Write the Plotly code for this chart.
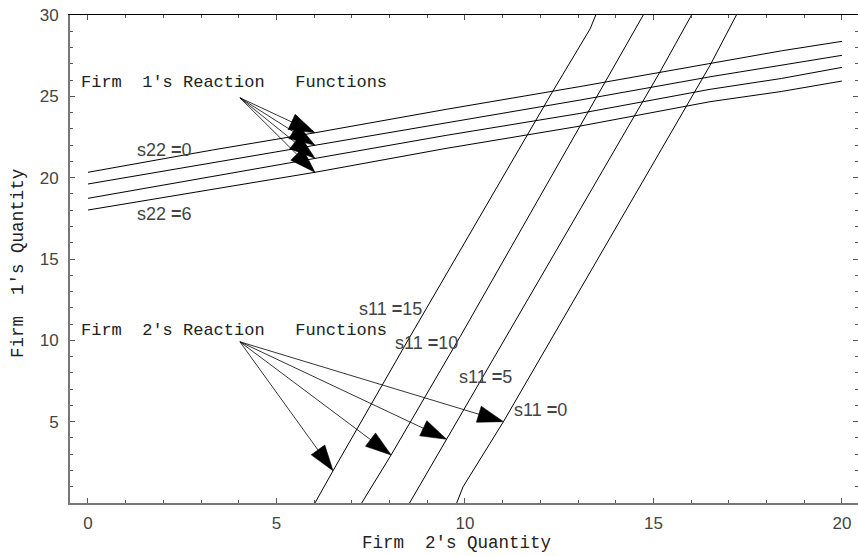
import plotly.graph_objects as go

# ---------------- data ----------------
# Firm 1's reaction functions: Firm 1 quantity (y) vs Firm 2 quantity (x)
f1_x = [0, 3.3, 6.02, 9.5, 13.05, 16.5, 18.4, 20]
f1_s22_0 = [20.33, 21.70, 22.76, 24.20, 25.60, 27.03, 27.80, 28.38]
f1_s22_2 = [19.61, 20.91, 21.99, 23.36, 24.77, 26.20, 26.93, 27.52]
f1_s22_4 = [18.73, 20.08, 21.19, 22.60, 23.95, 25.43, 26.10, 26.78]
f1_s22_6 = [18.01, 19.28, 20.33, 21.80, 23.17, 24.67, 25.30, 25.94]

# Firm 2's reaction functions: Firm 2 quantity (x) as function of Firm 1 quantity (y)
f2_s11_15_y = [0, 1.98, 10.22, 20.47, 25.2, 29.15, 30]
f2_s11_15_x = [6.02, 6.50, 8.54, 11.10, 12.30, 13.32, 13.47]
f2_s11_10_y = [0, 2.95, 10.22, 20.47, 25.97, 30]
f2_s11_10_x = [7.26, 8.04, 9.87, 12.39, 13.76, 14.73]
f2_s11_5_y = [0, 3.92, 10.12, 20.47, 26.49, 30]
f2_s11_5_x = [8.53, 9.51, 11.06, 13.65, 15.17, 16.01]
f2_s11_0_y = [0, 1.0, 5.0, 10.12, 17.4, 26.9, 30]
f2_s11_0_x = [9.78, 9.95, 11.02, 12.30, 14.11, 16.50, 17.20]

# arrows (origin at the label, tips on the curves)
arrow1_origin = (4.03, 24.91)
arrow1_tip_x = [6.02, 6.02, 6.02, 6.02]
arrow1_tip_y = [22.76, 21.99, 21.19, 20.33]
arrow2_origin = (4.03, 9.91)
arrow2_tip_x = [6.50, 8.04, 9.51, 11.02]
arrow2_tip_y = [1.98, 2.95, 3.92, 5.00]

# text labels
group_labels = ["Firm\u00a0\u00a01's Reaction\u00a0\u00a0\u00a0Functions",
                "Firm\u00a0\u00a02's Reaction\u00a0\u00a0\u00a0Functions"]
group_label_x = [-0.24, -0.24]
group_label_y = [25.82, 10.62]

curve_labels = ["s22 <b>=</b>0", "s22 <b>=</b>6", "s11 <b>=</b>15",
                "s11 <b>=</b>10", "s11 <b>=</b>5", "s11 <b>=</b>0"]
curve_label_x = [1.25, 1.25, 7.14, 8.09, 9.79, 11.25]
curve_label_y = [21.7, 17.76, 11.95, 9.83, 7.74, 5.72]

x_ticks = [0, 5, 10, 15, 20]
y_ticks = [5, 10, 15, 20, 25, 30]
x_title = "Firm\u00a0\u00a02's Quantity"
y_title = "Firm\u00a0\u00a01's Quantity"

# ---------------- figure ----------------
fig = go.Figure()
line_style = dict(color="black", width=1)

for ys in [f1_s22_0, f1_s22_2, f1_s22_4, f1_s22_6]:
    fig.add_trace(go.Scatter(x=f1_x, y=ys, mode="lines", line=line_style,
                             hoverinfo="skip", showlegend=False))

for xs, ys in [(f2_s11_15_x, f2_s11_15_y), (f2_s11_10_x, f2_s11_10_y),
               (f2_s11_5_x, f2_s11_5_y), (f2_s11_0_x, f2_s11_0_y)]:
    fig.add_trace(go.Scatter(x=xs, y=ys, mode="lines", line=line_style,
                             hoverinfo="skip", showlegend=False))

for origin, tx, ty in [(arrow1_origin, arrow1_tip_x, arrow1_tip_y),
                       (arrow2_origin, arrow2_tip_x, arrow2_tip_y)]:
    for x1, y1 in zip(tx, ty):
        fig.add_trace(go.Scatter(
            x=[origin[0], x1], y=[origin[1], y1], mode="lines+markers",
            line=dict(color="black", width=0.8),
            marker=dict(symbol="arrow", size=[0, 27], color="#000000", opacity=1,
                        angleref="previous", line=dict(width=0.6, color="#000000")),
            hoverinfo="skip", showlegend=False, cliponaxis=False))

mono = "Liberation Mono, Courier New, monospace"
sans = "Liberation Sans, Arial, sans-serif"

for t, x, y in zip(group_labels, group_label_x, group_label_y):
    fig.add_annotation(x=x, y=y, xref="x", yref="y", text=t, showarrow=False,
                       xanchor="left", yanchor="middle",
                       font=dict(family=mono, size=17, color="#222"))

for t, x, y in zip(curve_labels, curve_label_x, curve_label_y):
    fig.add_annotation(x=x, y=y, xref="x", yref="y", text=t, showarrow=False,
                       xanchor="left", yanchor="middle",
                       font=dict(family=sans, size=18, color="#444"))

fig.add_annotation(x=0.491, y=-0.082, xref="paper", yref="paper", text=x_title,
                   showarrow=False, xanchor="center", yanchor="middle",
                   font=dict(family=mono, size=17.5, color="#222"))
fig.add_annotation(x=-0.066, y=0.492, xref="paper", yref="paper", text=y_title,
                   showarrow=False, xanchor="center", yanchor="middle", textangle=-90,
                   font=dict(family=mono, size=17.5, color="#222"))

xr = [-0.477, 20.425]
yr = [0, 30]
tickfont = dict(family=sans, size=17, color="#444")

fig.update_layout(
    width=858, height=556,
    margin=dict(l=70, r=0, t=15, b=53, autoexpand=False),
    paper_bgcolor="white", plot_bgcolor="white",
    xaxis=dict(range=xr, tickvals=x_ticks, ticks="inside", ticklen=5,
               tickcolor="#555", tickwidth=1, showline=True, linecolor="#777",
               linewidth=2, showgrid=False, zeroline=False, tickfont=tickfont,
               ticklabelstandoff=4, automargin=False,
               minor=dict(dtick=1, ticks="inside", ticklen=3, tickcolor="#555",
                          showgrid=False)),
    yaxis=dict(range=yr, tickvals=y_ticks, ticks="inside", ticklen=5,
               tickcolor="#555", tickwidth=1, showline=True, linecolor="#777",
               linewidth=2, showgrid=False, zeroline=False, tickfont=tickfont,
               ticklabelstandoff=6, automargin=False,
               minor=dict(dtick=1, ticks="inside", ticklen=3, tickcolor="#555",
                          showgrid=False)),
    xaxis2=dict(range=xr, overlaying="x", side="top", tickvals=x_ticks,
                ticks="inside", ticklen=5, tickcolor="#555", showticklabels=False,
                showline=True, linecolor="black", linewidth=1, showgrid=False,
                zeroline=False, automargin=False,
                minor=dict(dtick=1, ticks="inside", ticklen=3, tickcolor="#555",
                           showgrid=False)),
    yaxis2=dict(range=yr, overlaying="y", side="right", tickvals=y_ticks,
                ticks="inside", ticklen=5, tickcolor="#555", showticklabels=False,
                showline=True, linecolor="black", linewidth=1, showgrid=False,
                zeroline=False, automargin=False,
                minor=dict(dtick=1, ticks="inside", ticklen=3, tickcolor="#555",
                           showgrid=False)),
)
# invisible trace to activate the mirror axes
fig.add_trace(go.Scatter(x=[None], y=[None], xaxis="x2", yaxis="y2",
                         showlegend=False, hoverinfo="skip"))

fig.write_html("out.html", config={"displayModeBar": False},
               post_script="document.body.style.margin='0';document.body.style.padding='0';")
